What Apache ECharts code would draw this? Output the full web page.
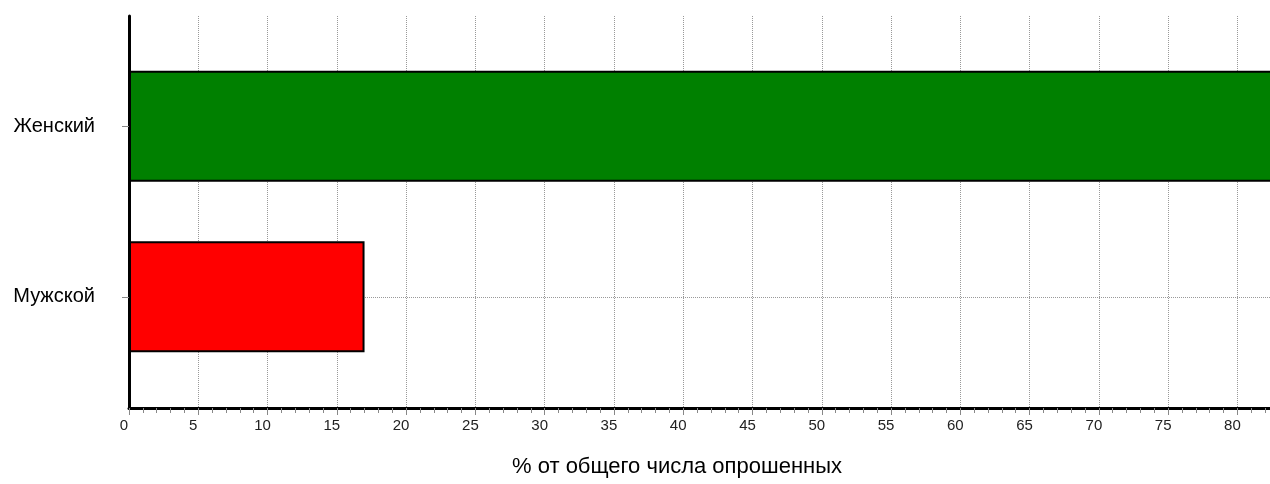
<!DOCTYPE html>
<html>
<head>
<meta charset="utf-8">
<script src="https://cdn.jsdelivr.net/npm/echarts@6/dist/echarts.min.js"></script>
<style>
  html, body { margin: 0; padding: 0; background: #fff; }
  #chart { width: 1270px; height: 484px; }
</style>
</head>
<body>
<div id="chart"></div>
<script>
const categories = ['Мужской', 'Женский']
const values = [17, 83]
const barColors = ['#ff0000', '#008000']
const axisMax = 83
const axisTitle = '% от общего числа опрошенных'

const font = '"Liberation Sans", Arial, sans-serif'
const chart = echarts.init(document.getElementById('chart'))

const option = {
  animation: false,
  backgroundColor: '#fff',
  grid: [
    // frame grid: axis lines and vertical grid lines
    { left: 129, right: -9, top: 16, bottom: 76, outerBoundsMode: 'none' },
    // bar grid: categories centred where the original draws them
    { left: 129, right: -9, top: 41, bottom: 102, outerBoundsMode: 'none' },
  ],
  xAxis: [
    {
      gridIndex: 0,
      type: 'value',
      min: 0,
      max: axisMax,
      interval: 5,
      axisLine: { show: true, lineStyle: { color: '#000', width: 3 } },
      axisTick: { show: true, length: 7, lineStyle: { color: '#888', width: 1 } },
      minorTick: { show: true, splitNumber: 5, length: 5, lineStyle: { color: '#888', width: 1 } },
      axisLabel: {
        color: '#222',
        fontFamily: font,
        fontSize: 15,
        margin: 10,
        padding: [0, 10, 0, 0],
        showMaxLabel: false,
      },
      splitLine: { show: true, lineStyle: { color: '#999', type: 'dotted', width: 1 } },
    },
    {
      gridIndex: 1,
      type: 'value',
      min: 0,
      max: axisMax,
      show: false,
    },
  ],
  yAxis: [
    {
      gridIndex: 0,
      type: 'category',
      data: categories,
      axisLine: { show: true, lineStyle: { color: '#000', width: 3 } },
      axisTick: { show: false },
      axisLabel: { show: false },
      splitLine: { show: false },
    },
    {
      gridIndex: 1,
      type: 'category',
      data: categories,
      axisLine: { show: false },
      axisTick: { show: true, alignWithLabel: true, length: 7, lineStyle: { color: '#888' } },
      axisLabel: { color: '#000', fontFamily: font, fontSize: 20, margin: 34 },
      splitLine: {
        show: true,
        alignWithLabel: true,
        lineStyle: { color: '#999', type: 'dotted', width: 1 },
      },
    },
  ],
  series: [
    {
      type: 'bar',
      xAxisIndex: 1,
      yAxisIndex: 1,
      barWidth: 111,
      data: values.map((v, i) => ({
        value: v,
        itemStyle: { color: barColors[i] },
      })),
      itemStyle: { borderColor: '#000', borderWidth: 2 },
    },
  ],
  graphic: [
    {
      type: 'text',
      x: 677,
      y: 467,
      style: {
        text: axisTitle,
        font: '22px ' + font,
        fill: '#000',
        textAlign: 'center',
        textVerticalAlign: 'middle',
      },
    },
  ],
}

chart.setOption(option)
</script>
</body>
</html>
